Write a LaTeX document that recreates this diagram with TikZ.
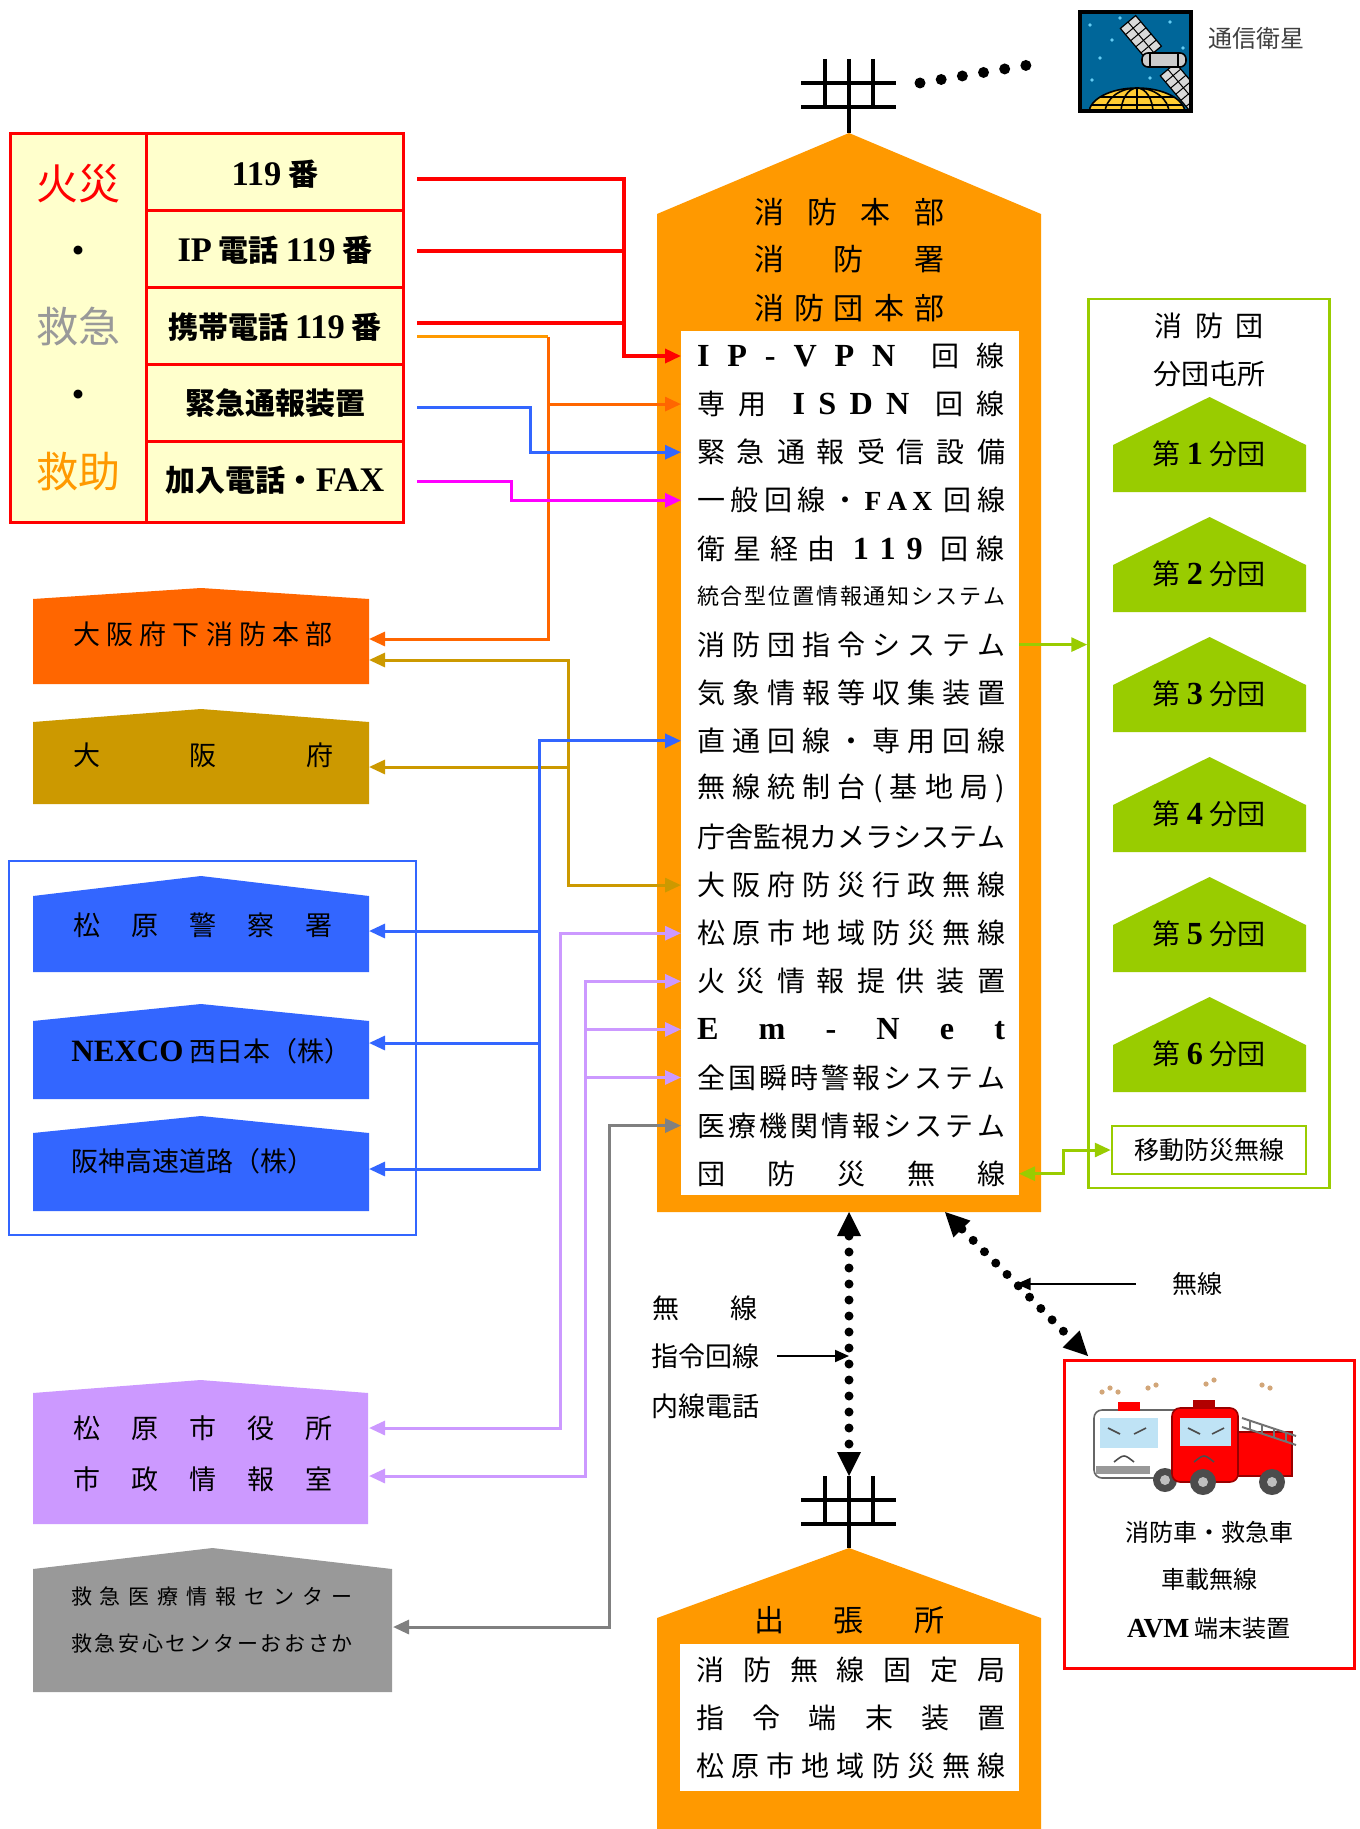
\documentclass[tikz,border=0pt]{standalone}
\usepackage{fontspec}
\setmainfont{Liberation Serif}
\newfontfamily\jp{Noto Sans CJK JP}
\newfontfamily\latfont{Liberation Serif}[Scale=1.15]
\usetikzlibrary{arrows.meta,calc}

\definecolor{hqorange}{HTML}{FF9900}
\definecolor{fdorange}{HTML}{FF6600}
\definecolor{osakagold}{HTML}{CC9900}
\definecolor{polblue}{HTML}{3366FF}
\definecolor{dangreen}{HTML}{99CC00}
\definecolor{citylav}{HTML}{CC99FF}
\definecolor{emgray}{HTML}{999999}
\definecolor{linegray}{HTML}{808080}
\definecolor{cellyellow}{HTML}{FFFFCC}
\definecolor{faxpink}{HTML}{FF00FF}
\definecolor{satblue}{HTML}{006699}
\definecolor{globeyellow}{HTML}{FFCC33}
\definecolor{glass}{HTML}{BFE3F5}

% font size in pt
\newcommand\fsz[1]{\fontsize{#1}{#1}\selectfont}
% bold roman for latin letters and digits
\newcommand\lat[1]{{\latfont\bfseries #1}}
% spread the characters of #2 evenly over the width #1
\newcommand\spread[2]{\makebox[#1]{\spreadone#2\relax}}
\def\spreadone#1{#1\spreadnext}
\def\spreadnext{\futurelet\spreadtok\spreadtest}
\def\spreadtest{\ifx\spreadtok\relax\expandafter\spreadstop\else\expandafter\spreadgrab\fi}
\def\spreadgrab#1{\hfill#1\spreadnext}
\def\spreadstop\relax{}
% building: [colour] x1, x2, apex, eave, bottom
\newcommand\house[6][]{\fill[#1] (#2,#6) -- (#2,#5) -- ({(#2+#3)/2},#4) -- (#3,#5) -- (#3,#6) -- cycle;}

\begin{document}
\begin{tikzpicture}[x=0.5pt,y=-0.5pt,>={Triangle[length=8pt,width=7pt]},
    every node/.style={inner sep=0pt},
    link/.style={line width=1.5pt},
    cell/.style={font=\jp\bfseries\fsz{15}},
    big/.style={font=\jp\fsz{21}},
    prow/.style={font=\jp\fsz{14}},
    hlab/.style={font=\jp\fsz{13.5}},
    note/.style={font=\jp\fsz{12.5}},
    dotlink/.style={line width=4.5pt,line cap=round,dash pattern=on 0pt off 8pt,
      {Triangle[length=12pt,width=12pt,line width=0pt]}-{Triangle[length=12pt,width=12pt,line width=0pt]}},
    pointer/.style={line width=1pt,-{Triangle[length=7pt,width=6pt]}}]
\useasboundingbox (0,0) rectangle (1359,1829);
\fill[white] (0,0) rectangle (1359,1829);

% call table
\fill[cellyellow] (10,134) rectangle (403,522);
\draw[red,line width=1.5pt] (10,134) rectangle (403,522) (146,134) -- (146,522);
\foreach \y in {211,288,364,441} \draw[red,line width=1.5pt] (146,\y) -- (403,\y);
\node[big,text=red] (kasai) at (78,184) {火災};
\node[big] (dot1) at (78,256) {・};
\node[big,text=emgray] (kyukyu) at (78,327) {救急};
\node[big] (dot2) at (78,400) {・};
\node[big,text=hqorange] (kyujo) at (78,472) {救助};
\node[cell] (c1) at (275,174) {\lat{119} 番};
\node[cell] (c2) at (275,250) {\lat{IP} 電話 \lat{119} 番};
\node[cell] (c3) at (275,327) {携帯電話 \lat{119} 番};
\node[cell] (c4) at (275,403) {緊急通報装置};
\node[cell] (c5) at (275,480) {加入電話・\lat{FAX}};
\coordinate (t1) at (417,179);
\coordinate (t2) at (417,251);
\coordinate (t3) at (417,323);
\coordinate (t4) at (417,337);
\coordinate (t5) at (417,407);
\coordinate (t6) at (417,481);

% headquarters
\house[hqorange]{657}{1041}{133}{214}{1212}
\fill[white] (681,331) rectangle (1019,1195);
\foreach \y/\h in {59/74,1476/72}
  \draw[line width=2pt] (849,\y) -- (849,\y+\h) (801,\y+24) -- (896,\y+24) (801,\y+48) -- (896,\y+48)
    (825,\y) -- (825,\y+48) (873,\y) -- (873,\y+48);
\coordinate (ant1) at (896,83);
\coordinate (hqb) at (849,1212);
\coordinate (ant2) at (849,1476);
\coordinate (hqd) at (945,1212);
\node[font=\jp\fsz{15}] (hq1) at (849,212) {\spread{95pt}{消防本部}};
\node[font=\jp\fsz{15}] (hq2) at (849,259) {\spread{95pt}{消防署}};
\node[font=\jp\fsz{15}] (hq3) at (849,308) {\spread{95pt}{消防団本部}};
\foreach \i in {1,...,18} {
  \coordinate (p\i) at (681,{356+48.1*(\i-1)});
  \coordinate (q\i) at (1019,{356+48.1*(\i-1)});
}
\node[prow] (r1) at (851,356) {\spread{154pt}{{\lat I} {\lat P} {\lat -} {\lat V} {\lat P} {\lat N} {} 回 線}};
\node[prow] (r2) at (851,404.1) {\spread{154pt}{専 用 {} {\lat I} {\lat S} {\lat D} {\lat N} {} 回 線}};
\node[prow] (r3) at (851,452.2) {\spread{154pt}{緊急通報受信設備}};
\node[prow] (r4) at (851,500.3) {\spread{154pt}{一般回線・{\lat{\fsz{12}F}}{\lat{\fsz{12}A}}{\lat{\fsz{12}X}}{}回線}};
\node[prow] (r5) at (851,548.4) {\spread{154pt}{衛星経由{}{\lat{1\,\,1\,\,9}}{}回線}};
\node[font=\jp\fsz{11}] (r6) at (851,596.5) {\spread{154pt}{統合型位置情報通知システム}};
\node[prow] (r7) at (851,644.6) {\spread{154pt}{消防団指令システム}};
\node[prow] (r8) at (851,692.7) {\spread{154pt}{気象情報等収集装置}};
\node[prow] (r9) at (851,740.8) {\spread{154pt}{直通回線・専用回線}};
\node[prow] (r10) at (851,788.9) {\spread{154pt}{無線統制台(基地局)}};
\node[prow] (r11) at (851,837) {\spread{154pt}{庁舎監視カメラシステム}};
\node[prow] (r12) at (851,885.1) {\spread{154pt}{大阪府防災行政無線}};
\node[prow] (r13) at (851,933.2) {\spread{154pt}{松原市地域防災無線}};
\node[prow] (r14) at (851,981.3) {\spread{154pt}{火災情報提供装置}};
\node[prow] (r15) at (851,1029.4) {\spread{154pt}{{\lat E}{\lat m}{\lat -}{\lat N}{\lat e}{\lat t}}};
\node[prow] (r16) at (851,1077.5) {\spread{154pt}{全国瞬時警報システム}};
\node[prow] (r17) at (851,1125.6) {\spread{154pt}{医療機関情報システム}};
\node[prow] (r18) at (851,1173.7) {\spread{154pt}{団防災無線}};

% satellite
\node[minimum width=55.5pt,minimum height=49.5pt] (sat) at (1135.5,61.5) {};
\fill[satblue] (sat.north west) rectangle (sat.south east);
\begin{scope}
  \clip (sat.north west) rectangle (sat.south east);
  \foreach \sx/\sy in {1090/25,1100/58,1112/40,1092/80,1170/22,1183/48,1120/18,1150/78,1180/75}
    \fill[cyan!60] (\sx,\sy) circle (0.9pt);
  \filldraw[fill=globeyellow,draw=black,line width=0.8pt] (1137,113) ellipse [x radius=24pt,y radius=12.5pt];
  \begin{scope}
    \clip (1137,113) ellipse [x radius=24pt,y radius=12.5pt];
    \draw[line width=0.8pt] (1137,113) ellipse [x radius=8pt,y radius=12.5pt]
      (1137,113) ellipse [x radius=16pt,y radius=12.5pt]
      (1080,97) -- (1191,97) (1080,105) -- (1191,105) (1137,85) -- (1137,111);
  \end{scope}
  \begin{scope}[shift={(1128,22)},x={(0.322pt,-0.3825pt)},y={(-0.3825pt,-0.322pt)}]
    \filldraw[fill=black!15,draw=black,line width=0.6pt]
      (0,-10) -- (40,-10) -- (40,10) -- (0,10) -- cycle
      (62,-10) -- (110,-10) -- (110,10) -- (62,10) -- cycle;
    \draw[line width=0.5pt] foreach \t in {8,16,24,32,70,78,86,94,102} {(\t,-10) -- (\t,10)}
      (0,0) -- (40,0) (62,0) -- (110,0);
  \end{scope}
  \filldraw[fill=black!20,draw=black,line width=0.8pt,rounded corners=3pt] (1142,53) rectangle (1186,67);
  \draw[line width=0.6pt] (1150,53) -- (1150,67) (1178,53) -- (1178,67);
\end{scope}
\draw[line width=2pt] (sat.north west) rectangle (sat.south east);
\node[font=\jp\fsz{12},text=black!75] (eisei) at (1256,38) {通信衛星};
\draw[line width=5.5pt,line cap=round,dash pattern=on 0pt off 10.73pt] ([xshift=12pt]ant1) -- ([xshift=-16.5pt,yshift=-0.25pt]sat.west);

% fire brigade stations
\node[draw=dangreen,line width=1.25pt,minimum width=120.5pt,minimum height=444.5pt] (dan) at (1209,743.5) {};
\node[font=\jp\fsz{14}] (dan1) at (1209,326) {\spread{54.5pt}{消防団}};
\node[font=\jp\fsz{14}] (dan2) at (1209,374) {分団屯所};
\foreach \k in {1,...,6} {
  \pgfmathsetmacro\ya{397+120*(\k-1)}
  \house[dangreen]{1113}{1306}{\ya}{\ya+48}{\ya+95}
  \node[font=\jp\fsz{14}] (bu\k) at (1209,\ya+57) {第 \lat{\k} 分団};
}
\node[draw=dangreen,line width=1.25pt,fill=white,minimum width=97pt,minimum height=24pt,font=\jp\fsz{12.5}] (ido) at (1209,1150) {移動防災無線};

% outside agencies
\house[fdorange]{33}{369}{588}{599}{684}
\house[osakagold]{33}{369}{709}{722}{804}
\draw[polblue,line width=1pt] (9,861) rectangle (416,1235);
\house[polblue]{33}{369}{876}{896}{972}
\house[polblue]{33}{369}{1004}{1021}{1099}
\house[polblue]{33}{369}{1116}{1133}{1211}
\house[citylav]{33}{368}{1380}{1393}{1524}
\house[emgray]{33}{392}{1548}{1569}{1692}
\node[hlab] (fdhq) at (203,634) {\spread{130pt}{大阪府下消防本部}};
\node[hlab] (osaka) at (203,755) {\spread{130pt}{大阪府}};
\node[hlab] (police) at (203,925) {\spread{130pt}{松原警察署}};
\node[hlab,anchor=west] (nexco) at (71,1051) {\lat{NEXCO} 西日本（株）};
\node[hlab,anchor=west] (hanshin) at (71,1161) {阪神高速道路（株）};
\node[hlab] (city1) at (203,1428) {\spread{130pt}{松原市役所}};
\node[hlab] (city2) at (203,1479) {\spread{130pt}{市政情報室}};
\node[font=\jp\fsz{10.5}] (emc1) at (212,1596) {\spread{141pt}{救急医療情報センター}};
\node[font=\jp\fsz{10.5}] (emc2) at (212,1643) {\spread{141pt}{救急安心センターおおさか}};
\coordinate (fd1) at (369,639);
\coordinate (fd2) at (369,660);
\coordinate (osk) at (369,767);
\coordinate (pol) at (369,931);
\coordinate (nex) at (369,1043);
\coordinate (han) at (369,1169);
\coordinate (cy1) at (369,1428);
\coordinate (cy2) at (369,1476);
\coordinate (emc) at (393,1627);

% line junctions
\coordinate (jred) at (624,0);
\coordinate (jor) at (548,0);
\coordinate (jbl) at (530,0);
\coordinate (jmg) at (511,0);
\coordinate (jgd) at (568,0);
\coordinate (jdb) at (539,0);
\coordinate (jl1) at (560,0);
\coordinate (jl2) at (585,0);
\coordinate (jgr) at (609,0);
\coordinate (jgn) at (1063,0);

% connectors
\draw[link,red,line width=1.75pt,->] (t1) -| (jred |- p1) -- (p1);
\draw[link,red,line width=1.75pt] (t2) -- (t2 -| jred) (t3) -- (t3 -| jred);
\draw[link,hqorange] (t4) -- (t4 -| jor);
\draw[link,fdorange,->] (t4 -| jor) |- (fd1);
\draw[link,fdorange,->] (jor |- p2) -- (p2);
\draw[link,polblue,->] (t5) -| (jbl |- p3) -- (p3);
\draw[link,faxpink,->] (t6) -| (jmg |- p4) -- (p4);
\draw[link,osakagold,<->] (fd2) -| (jgd |- p12) -- (p12);
\draw[link,osakagold,->] (jgd |- osk) -- (osk);
\draw[link,polblue,<->] (pol) -| (jdb |- p9) -- (p9);
\draw[link,polblue,->] (jdb |- pol) |- (nex);
\draw[link,polblue,->] (jdb |- nex) |- (han);
\draw[link,citylav,<->] (cy1) -| (jl1 |- p13) -- (p13);
\draw[link,citylav,<->] (cy2) -| (jl2 |- p14) -- (p14);
\draw[link,citylav,->] (jl2 |- p15) -- (p15);
\draw[link,citylav,->] (jl2 |- p16) -- (p16);
\draw[link,linegray,<->] (emc) -| (jgr |- p17) -- (p17);
\draw[link,dangreen,->] (q7) -- (q7 -| dan.west);
\draw[link,dangreen,<->] (q18) -| (jgn |- ido) -- (ido.west);

% branch office
\house[hqorange]{657}{1041}{1548}{1618}{1829}
\fill[white] (680,1644) rectangle (1019,1791);
\node[font=\jp\fsz{15}] (br0) at (849,1620) {\spread{95pt}{出張所}};
\node[prow] (br1) at (851,1670) {\spread{154.5pt}{消防無線固定局}};
\node[prow] (br2) at (851,1718) {\spread{154.5pt}{指令端末装置}};
\node[prow] (br3) at (851,1766) {\spread{154.5pt}{松原市地域防災無線}};

% radio links
\node[hlab] (lab1) at (705,1308) {\spread{53pt}{無線}};
\node[hlab] (shirei) at (705,1356) {指令回線};
\node[hlab] (lab3) at (705,1406) {内線電話};
\draw[dotlink] (hqb) -- (ant2);
\draw[pointer] ([xshift=9pt]shirei.east) -- (shirei -| hqb);

% vehicles
\node[draw=red,line width=1.5pt,minimum width=145pt,minimum height=154pt] (car) at (1209,1514) {};
\coordinate (carc) at (1088,1356);
\draw[dotlink] (hqd) -- (carc);
\node[note] (musen) at (1197,1284) {無線};
\draw[pointer] ([xshift=-18pt]musen.west) -- ($(hqd)!0.5!(carc)$);
\filldraw[fill=white,draw=black!60,line width=0.8pt,rounded corners=4pt] (1094,1410) rectangle (1185,1478);
\fill[glass] (1100,1418) rectangle (1158,1448);
\fill[red] (1118,1402) rectangle (1140,1411);
\draw[black!70,line width=0.8pt] (1108,1428) -- (1120,1434) (1134,1434) -- (1146,1428)
  (1114,1462) .. controls (1124,1454) .. (1134,1462);
\fill[black!40] (1096,1466) rectangle (1150,1474);
\fill[black!70] (1165,1480) circle (6pt);
\fill[black!25] (1165,1480) circle (2.5pt);
\filldraw[fill=red,draw=red!60!black,line width=0.8pt] (1236,1432) rectangle (1292,1476);
\filldraw[fill=red,draw=red!60!black,line width=0.8pt,rounded corners=4pt] (1172,1408) rectangle (1238,1482);
\fill[glass] (1180,1418) rectangle (1231,1446);
\fill[red!70!black] (1193,1400) rectangle (1215,1409);
\draw[black!70,line width=0.8pt] (1188,1428) -- (1200,1434) (1212,1434) -- (1224,1428)
  (1194,1462) .. controls (1204,1454) .. (1214,1462);
\draw[black!55,line width=1pt] (1242,1418) -- (1296,1436) (1242,1427) -- (1296,1445);
\foreach \lx in {1250,1262,1274,1286}
  \draw[black!55,line width=0.8pt] (\lx,{1418+(\lx-1242)/3}) -- (\lx,{1427+(\lx-1242)/3});
\fill[black!70] (1203,1482) circle (6.5pt) (1272,1482) circle (6.5pt);
\fill[black!25] (1203,1482) circle (2.5pt) (1272,1482) circle (2.5pt);
\foreach \sx/\sy in {1102/1392,1110/1388,1118/1392,1148/1388,1156/1385,1206/1384,1214/1380,1262/1385,1270/1388}
  \fill[brown!70] (\sx,\sy) circle (1.3pt);
\node[font=\jp\fsz{12}] (car1) at (1209,1532) {消防車・救急車};
\node[font=\jp\fsz{12}] (car2) at (1209,1579) {車載無線};
\node[font=\jp\fsz{12}] (car3) at (1209,1628) {\lat{AVM} 端末装置};
\end{tikzpicture}
\end{document}
